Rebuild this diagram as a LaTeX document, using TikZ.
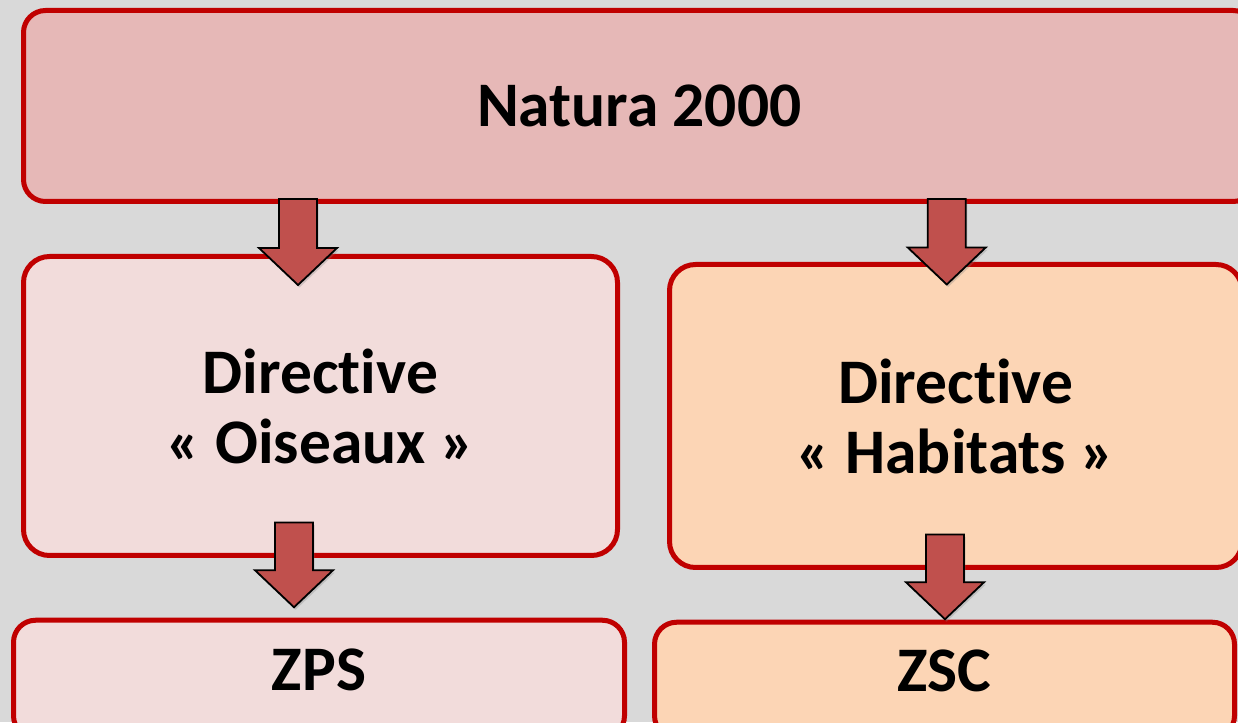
\documentclass[tikz,border=0pt]{standalone}
\usepackage{fontspec}
\setmainfont{Carlito}[Ligatures=NoCommon]
\usepackage{xcolor}
\usepackage{tikz}
\usetikzlibrary{calc}
\usetikzlibrary{shadows}

\definecolor{bggray}{HTML}{D9D9D9}
\definecolor{boxred}{HTML}{C00000}
\definecolor{arrowred}{HTML}{C0504D}
\definecolor{topfill}{HTML}{E6B8B7}
\definecolor{leftfill}{HTML}{F2DCDB}
\definecolor{rightfill}{HTML}{FCD5B5}

\begin{document}
\begin{tikzpicture}[x=1pt, y=1pt,
  box/.style={draw=boxred, line width=5pt, rounded corners=22pt, inner sep=0pt,
    align=center, font=\fontsize{63.5}{70}\selectfont\bfseries},
  bigarrow/.style={draw=black, line width=1.8pt, fill=arrowred,
    drop shadow={shadow xshift=1.5pt, shadow yshift=-2.5pt, opacity=.3},
    to path={let \p1=(\tikztostart), \p2=(\tikztotarget) in
      (\x1-19pt,\y1) -- (\x1+19pt,\y1) -- (\x1+19pt,\y2+37pt) -- (\x1+39pt,\y2+37pt)
      -- (\x1,\y2) -- (\x1-39pt,\y2+37pt) -- (\x1-19pt,\y2+37pt) -- cycle}}]
% background
  \fill[bggray] (0,0) rectangle (1238,722);
  \clip (0,0) rectangle (1238,722);
% main box
  \node[box, fill=topfill, minimum width=1231.5pt, minimum height=191pt] (natura) at (639.25,616) {Natura 2000};
% directives
  \node[box, fill=leftfill, rounded corners=26pt, minimum width=594pt, minimum height=299pt] (oiseaux) at (320.5,316) {Directive\\« Oiseaux »};
  \node[box, fill=rightfill, rounded corners=26pt, minimum width=572.5pt, minimum height=303pt] (habitats) at (955.75,306) {Directive\\« Habitats »};
% zones
  \node[box, fill=leftfill, minimum width=611pt, minimum height=117.5pt, text depth=19pt] (zps) at (319,43) {ZPS};
  \node[box, fill=rightfill, minimum width=580pt, minimum height=115.5pt, text depth=19pt] (zsc) at (944.5,42) {ZSC};
% arrows
  \draw[bigarrow] ($(natura.south -| oiseaux.north)+(-22.5,5)$) to ($(oiseaux.north)+(-22.5,-31)$);
  \draw[bigarrow] ($(natura.south -| habitats.north)+(-9,5)$) to ($(habitats.north)+(-9,-22.5)$);
  \draw[bigarrow] ($(oiseaux.south)+(-26.5,35.5)$) to ($(zps.north)+(-25,10.5)$);
  \draw[bigarrow] ($(habitats.south)+(-10.75,35.5)$) to ($(zsc.north)+(0.5,0.5)$);
\end{tikzpicture}
\end{document}
